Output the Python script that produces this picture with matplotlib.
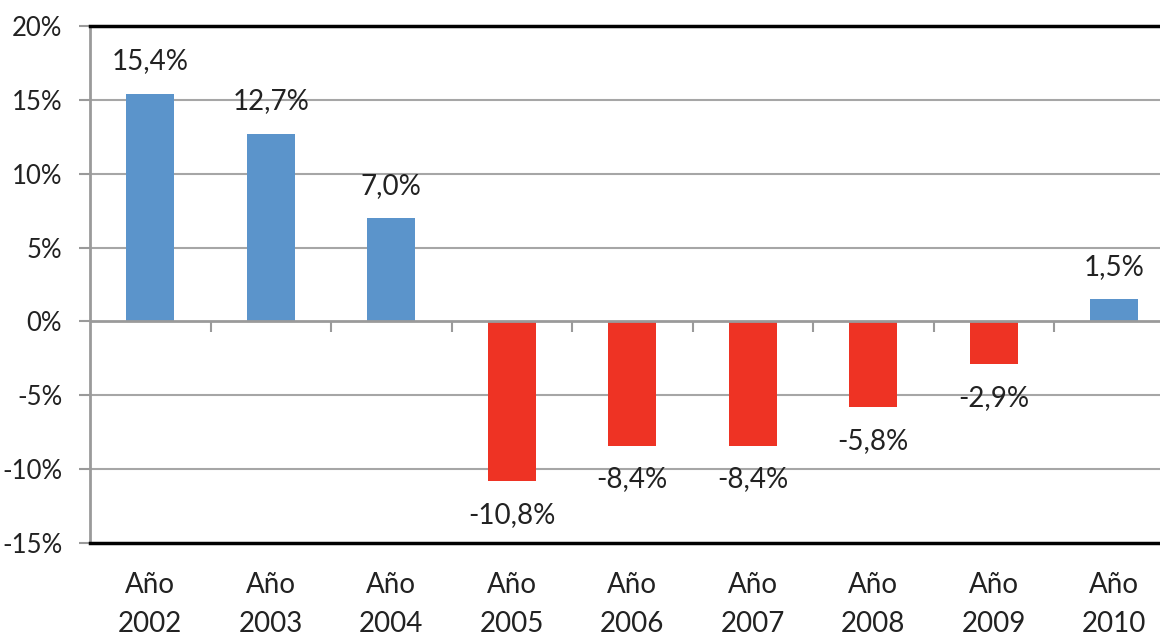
import matplotlib
matplotlib.use("Agg")
import matplotlib.pyplot as plt
import numpy as np

categories = ["Año\n2002", "Año\n2003", "Año\n2004", "Año\n2005", "Año\n2006",
              "Año\n2007", "Año\n2008", "Año\n2009", "Año\n2010"]
values = [15.4, 12.7, 7.0, -10.8, -8.4, -8.4, -5.8, -2.9, 1.5]
value_labels = ["15,4%", "12,7%", "7,0%", "-10,8%", "-8,4%", "-8,4%", "-5,8%", "-2,9%", "1,5%"]
yticks = [-15, -10, -5, 0, 5, 10, 15, 20]
ytick_labels = ["-15%", "-10%", "-5%", "0%", "5%", "10%", "15%", "20%"]

plt.rcParams['font.family'] = ['Lato', 'DejaVu Sans']

W, H = 1160, 636
fig = plt.figure(figsize=(W / 100, H / 100), dpi=100)
left, right, top, bottom = 90, 1174.5, 26, 543
ax = fig.add_axes([left / W, 1 - bottom / H, (right - left) / W, (bottom - top) / H])

blue = "#5B94CB"
red = "#EE3324"
colors = [blue if v >= 0 else red for v in values]
x = np.arange(len(values))
ax.bar(x, values, width=0.4, color=colors, zorder=3)

ax.set_xlim(-0.5, len(values) - 0.5)
ax.set_ylim(-15, 20)
ax.set_yticks(yticks)
ax.set_yticklabels(ytick_labels, fontsize=18.5, color="#222222")
ax.tick_params(axis='y', length=8, width=1.5, color="#9a9a9a", pad=12)

for yv in yticks:
    if yv not in (0, -15, 20):
        ax.axhline(yv, color="#a6a6a6", lw=1.5, zorder=1)
ax.axhline(0, color="#9a9a9a", lw=2, zorder=4)
bounds = x[:-1] + 0.5
ax.vlines(bounds, -0.7, 0, color="#9a9a9a", lw=1.5, zorder=4)

ax.set_xticks(x)
ax.set_xticklabels(categories, fontsize=20, color="#222222", linespacing=1.6)
ax.tick_params(axis='x', length=0, pad=21)

for s in ('top', 'bottom'):
    ax.spines[s].set_color("black")
    ax.spines[s].set_linewidth(2.5)
ax.spines['right'].set_visible(False)
ax.spines['left'].set_color("#9a9a9a")
ax.spines['left'].set_linewidth(2)

for xi, v, lab in zip(x, values, value_labels):
    if v >= 0:
        ax.annotate(lab, (xi, v), xytext=(0, 14), textcoords="offset points",
                    ha="center", va="bottom", fontsize=20, color="#222222")
    else:
        ax.annotate(lab, (xi, v), xytext=(0, -15), textcoords="offset points",
                    ha="center", va="top", fontsize=20, color="#222222")

fig.savefig("out.png", dpi=100)
